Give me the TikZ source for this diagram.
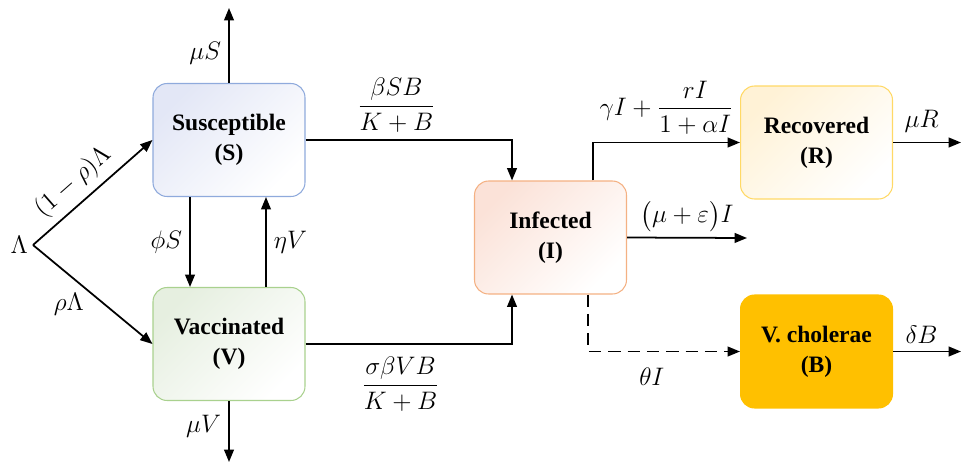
\documentclass[tikz,border=0pt]{standalone}
\usepackage{amsmath}
\usepackage{fontspec}
\setmainfont{Liberation Serif}
\newfontfamily\boxfont{Liberation Serif}
\usetikzlibrary{arrows.meta,positioning}

\definecolor{sline}{HTML}{8FAADC}
\definecolor{sfill}{HTML}{E3E7F6}
\definecolor{vline}{HTML}{A9D18E}
\definecolor{vfill}{HTML}{E6EFE0}
\definecolor{iline}{HTML}{F4B183}
\definecolor{ifill}{HTML}{FBE2D8}
\definecolor{rline}{HTML}{FFD966}
\definecolor{rfill}{HTML}{FFF2D6}
\definecolor{bfill}{HTML}{FFC000}

\begin{document}
\begin{tikzpicture}[
  x=0.02cm, y=-0.02cm,
  >={Triangle[length=7pt,width=5.5pt]},
  compart/.style={draw, line width=0.6pt, rounded corners=8pt, minimum width=3.04cm,
    minimum height=2.26cm, align=center, font=\boxfont\fontsize{13.4}{17}\selectfont\bfseries},
  shaded/.style={top color=#1, bottom color=white, shading angle=45},
  flow/.style={->, line width=1pt},
  lbl/.style={font=\fontsize{15}{17}\selectfont, inner sep=1pt}
]
\useasboundingbox (0,0) rectangle (962,463);

% compartments
\node[compart, draw=sline, shaded=sfill] (S) at (229,140) {Susceptible\\(S)};
\node[compart, draw=vline, shaded=vfill] (V) at (229,344) {Vaccinated\\(V)};
\node[compart, draw=iline, shaded=ifill] (I) at (550.5,237.5) {Infected\\(I)};
\node[compart, draw=rline, shaded=rfill] (R) at (816.5,142.5) {Recovered\\(R)};
\node[compart, draw=bfill, fill=bfill] (B) at (816.5,351.5) {V. cholerae\\(B)};

% free ends
\coordinate (fork) at (33,245);
\node[lbl, anchor=east] (lam) at (30,245) {$\Lambda$};
\coordinate (muSend) at (229,8);
\coordinate (muVend) at (229,462);
\coordinate (Iout) at (747,238);
\coordinate (Rout) at (961,142.5);
\coordinate (Bout) at (961,351.5);

% recruitment
\draw[flow] (fork) -- (S.west) node[lbl, pos=0.45, sloped, above=3pt] (lbS) {$(1-\rho)\Lambda$};
\draw[flow] (fork) -- (V.west) node[lbl, pos=0.3, below=9pt] (lbV) {$\rho\Lambda$};

% natural death
\draw[flow] (S.north) -- (muSend) node[lbl, pos=0.4, left=3pt] (lbmuS) {$\mu S$};
\draw[flow] (V.south) -- (muVend) node[lbl, pos=0.42, left=3pt] (lbmuV) {$\mu V$};

% vaccination and waning
\draw[flow] ([xshift=-0.78cm]S.south) -- ([xshift=-0.78cm]V.north)
  node[lbl, midway, left=3pt] (lbphi) {$\phi S$};
\draw[flow] ([xshift=0.74cm]V.north) -- ([xshift=0.74cm]S.south)
  node[lbl, midway, right=3pt] (lbeta) {$\eta V$};

% infection
\draw[flow] (S.east) -| ([xshift=-0.77cm]I.north)
  node[lbl, pos=0.22, above=3pt] (lbSI) {$\dfrac{\beta SB}{K+B}$};
\draw[flow] (V.east) -| ([xshift=-0.77cm]I.south)
  node[lbl, pos=0.23, below=6pt] (lbVI) {$\dfrac{\sigma\beta VB}{K+B}$};

% outflows of I
\draw[flow] ([xshift=0.85cm]I.north) |- (R.west)
  node[lbl, pos=0.75, above=3pt] (lbIR) {$\gamma I+\dfrac{rI}{1+\alpha I}$};
\draw[flow] (I.east) -- (Iout) node[lbl, midway, above=2pt] (lbIout) {$\big(\mu+\varepsilon\big)I$};
\draw[flow, dashed, dash pattern=on 7pt off 4pt] ([xshift=0.75cm]I.south) |- (B.west)
  node[lbl, pos=0.71, below=8pt] (lbIB) {$\theta I$};

% removal of R and B
\draw[flow] (R.east) -- (Rout) node[lbl, pos=0.42, above=4pt] (lbmuR) {$\mu R$};
\draw[flow] (B.east) -- (Bout) node[lbl, pos=0.42, above=3pt] (lbdel) {$\delta B$};

\end{tikzpicture}
\end{document}
